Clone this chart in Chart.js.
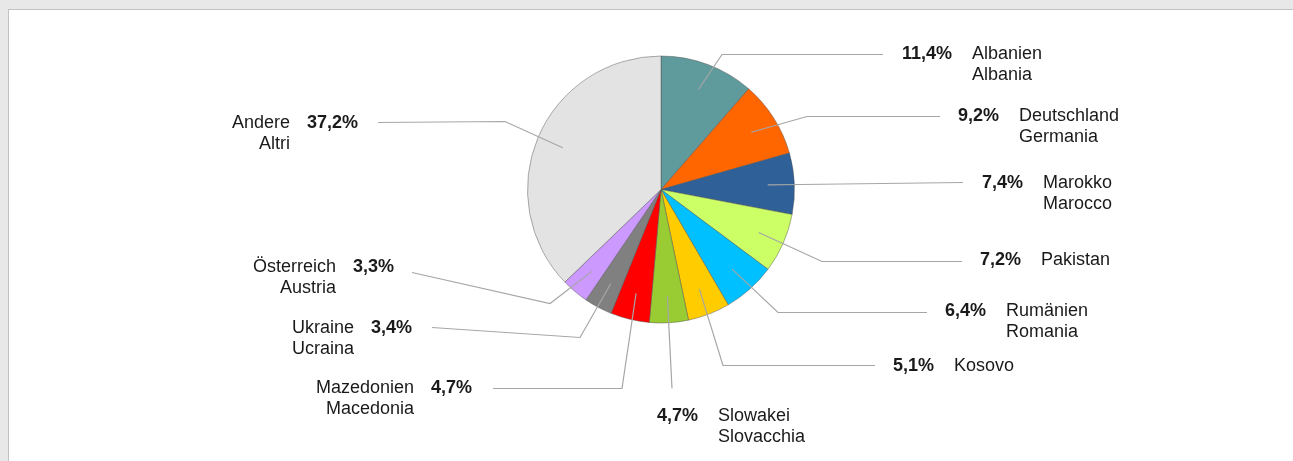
<!DOCTYPE html>
<html>
<head>
<meta charset="utf-8">
<script src="https://cdn.jsdelivr.net/npm/chart.js@4/dist/chart.umd.min.js"></script>
<style>
  html, body { margin:0; padding:0; background:#e8e8e8; width:1293px; height:461px; overflow:hidden; }
  #panel { position:absolute; left:8px; top:9px; width:1300px; height:470px; background:#fff; border:1px solid #c2c2c2; box-sizing:border-box; }
  #wrap { position:absolute; left:0; top:0; width:1293px; height:461px; }
</style>
</head>
<body>
<div id="panel"></div>
<div id="wrap"><canvas id="c" width="1293" height="461"></canvas></div>
<script>
// ---- data ----
const namesDe = ["Albanien", "Deutschland", "Marokko", "Pakistan", "Rumänien", "Kosovo", "Slowakei", "Mazedonien", "Ukraine", "Österreich", "Andere"];
const namesIt = ["Albania", "Germania", "Marocco", "", "Romania", "", "Slovacchia", "Macedonia", "Ucraina", "Austria", "Altri"];
const shares = [11.4, 9.2, 7.4, 7.2, 6.4, 5.1, 4.7, 4.7, 3.4, 3.3, 37.2];

// ---- styles / layout (separate from data) ----
const colors = ["#5f9a9c", "#ff6600", "#2f6097", "#ccff66", "#00c0ff", "#ffcc00", "#99cc33", "#ff0000", "#808080", "#cc99ff", "#e3e3e3"];
// label layout relative to pie centre: elbow, line end, text anchor, alignment
const labelLayout = [
  {ex:61,  ey:-135, lx:222,  ly:-135, tx:241,  ty:-135, align:"left"},
  {ex:146, ey:-73,  lx:279,  ly:-73,  tx:297,  ty:-73,  align:"left"},
  {ex:140, ey:-5,   lx:302,  ly:-7,   tx:321,  ty:-6,   align:"left"},
  {ex:161, ey:72,   lx:301,  ly:72,   tx:319,  ty:71,   align:"left"},
  {ex:117, ey:123,  lx:266,  ly:123,  tx:284,  ty:122,  align:"left"},
  {ex:62,  ey:176,  lx:214,  ly:176,  tx:232,  ty:177,  align:"left"},
  {ex:11,  ey:199,  lx:11,   ly:199,  tx:-4,   ty:227,  align:"left"},
  {ex:-39, ey:199,  lx:-168, ly:199,  tx:-189, ty:199,  align:"right"},
  {ex:-81, ey:148,  lx:-229, ly:138,  tx:-249, ty:139,  align:"right"},
  {ex:-111,ey:114,  lx:-249, ly:83,   tx:-267, ty:78,   align:"right"},
  {ex:-156,ey:-68,  lx:-283, ly:-67,  tx:-303, ty:-66,  align:"right"}
];
const FONT = '"Liberation Sans", Arial, sans-serif';
const FS = 18;
const LH = 21;

function fmt(v){ return v.toFixed(1).replace('.', ',') + '%'; }

const leaderPlugin = {
  id: 'leaders',
  afterDatasetsDraw(chart) {
    const ctx = chart.ctx;
    const meta = chart.getDatasetMeta(0);
    ctx.save();
    meta.data.forEach((arc, i) => {
      const p = arc.getProps(['x','y','startAngle','endAngle','outerRadius'], true);
      const mid = (p.startAngle + p.endAngle) / 2;
      const r = p.outerRadius * 0.8;
      const ix = p.x + Math.cos(mid) * r;
      const iy = p.y + Math.sin(mid) * r;
      const L = labelLayout[i];
      ctx.strokeStyle = '#a6a6a6';
      ctx.lineWidth = 1.2;
      ctx.beginPath();
      ctx.moveTo(ix, iy);
      ctx.lineTo(p.x + L.ex, p.y + L.ey);
      ctx.lineTo(p.x + L.lx, p.y + L.ly);
      ctx.stroke();

      const pct = fmt(shares[i]);
      const tx = p.x + L.tx, ty = p.y + L.ty;
      ctx.fillStyle = '#1a1a1a';
      ctx.textBaseline = 'middle';
      ctx.font = 'bold ' + FS + 'px ' + FONT;
      const pw = ctx.measureText(pct).width;
      if (L.align === 'left') {
        ctx.textAlign = 'left';
        ctx.fillText(pct, tx, ty);
        ctx.font = FS + 'px ' + FONT;
        ctx.fillText(namesDe[i], tx + pw + 20, ty);
        if (namesIt[i]) ctx.fillText(namesIt[i], tx + pw + 20, ty + LH);
      } else {
        ctx.textAlign = 'right';
        ctx.fillText(pct, tx, ty);
        ctx.font = FS + 'px ' + FONT;
        ctx.fillText(namesDe[i], tx - pw - 17, ty);
        if (namesIt[i]) ctx.fillText(namesIt[i], tx - pw - 17, ty + LH);
      }
    });
    ctx.restore();
  }
};

new Chart(document.getElementById('c'), {
  type: 'pie',
  data: {
    labels: namesDe,
    datasets: [{
      data: shares,
      backgroundColor: colors,
      borderColor: 'rgba(80,80,80,0.45)',
      borderWidth: 1
    }]
  },
  options: {
    responsive: false,
    animation: false,
    layout: { padding: { left: 527, right: 498, top: 55, bottom: 137 } },
    plugins: { legend: { display: false }, tooltip: { enabled: false } }
  },
  plugins: [leaderPlugin]
});
</script>
</body>
</html>
